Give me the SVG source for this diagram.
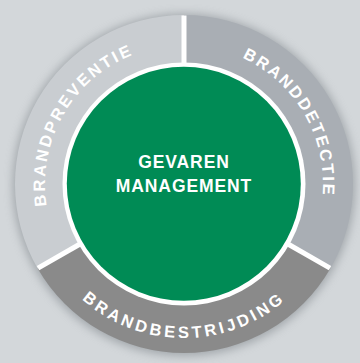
<svg xmlns="http://www.w3.org/2000/svg" width="360" height="363" viewBox="0 0 360 363">
<style>
.ring{font-family:"Liberation Sans",Arial,sans-serif;font-weight:bold;font-size:16.5px;fill:#ffffff}
.core{font-family:"Liberation Sans",Arial,sans-serif;font-weight:bold;font-size:17.5px;fill:#ffffff;letter-spacing:0.9px;text-anchor:middle}
.div{stroke:#ffffff;stroke-width:5;stroke-linecap:butt}
</style>
<defs>
<filter id="sh" x="-20%" y="-20%" width="140%" height="140%"><feGaussianBlur stdDeviation="5"/></filter>
<path id="pTL" d="M63.6,253.5 A139,139 0 0 1 184,45"/>
<path id="pTR" d="M184,45 A139,139 0 0 1 304.4,253.5"/>
<path id="pB" d="M50.6,261 A154,154 0 0 0 317.4,261"/>
</defs>
<rect width="360" height="363" fill="#d3d7da"/>
<circle cx="184" cy="185" r="171" fill="#7f858a" opacity="0.6" filter="url(#sh)"/>
<g id="segment-brandbestrijding">
<path d="M184,184 L330.36,268.5 A169,169 0 0 1 37.64,268.5 Z" fill="#8a8a8a"/>
<text class="ring" style="letter-spacing:3.3px"><textPath href="#pB" startOffset="50%" text-anchor="middle">BRANDBESTRIJDING</textPath></text>
</g>
<g id="segment-brandpreventie">
<path d="M184,184 L37.64,268.5 A169,169 0 0 1 184,15 Z" fill="#c9cdd1"/>
<text class="ring" style="letter-spacing:2.6px"><textPath href="#pTL" startOffset="50%" text-anchor="middle">BRANDPREVENTIE</textPath></text>
</g>
<g id="segment-branddetectie">
<path d="M184,184 L184,15 A169,169 0 0 1 330.36,268.5 Z" fill="#a9aeb4"/>
<text class="ring" style="letter-spacing:2.3px"><textPath href="#pTR" startOffset="50%" text-anchor="middle">BRANDDETECTIE</textPath></text>
</g>
<g id="dividers">
<line class="div" x1="184" y1="15.5" x2="184" y2="66"/>
<line class="div" x1="330" y1="268.2" x2="286.2" y2="243"/>
<line class="div" x1="38" y1="268.2" x2="81.8" y2="243"/>
</g>
<g id="gevaren-management">
<circle cx="184" cy="184" r="121.5" fill="#ffffff"/>
<circle cx="183.8" cy="183.8" r="117" fill="#008b55"/>
<text class="core" x="184" y="168">GEVAREN</text>
<text class="core" x="184" y="192">MANAGEMENT</text>
</g>
</svg>
